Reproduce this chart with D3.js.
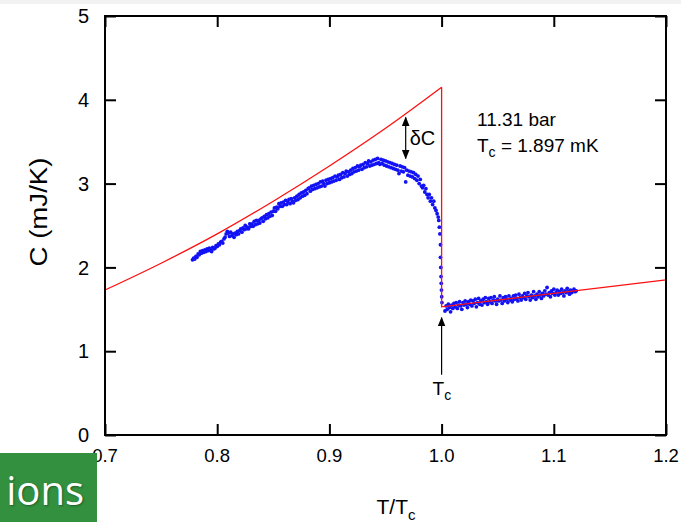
<!DOCTYPE html>
<html>
<head>
<meta charset="utf-8">
<script src="https://cdn.jsdelivr.net/npm/d3@7/dist/d3.min.js"></script>
<style>
  html, body { margin: 0; padding: 0; background: #fff; }
  svg { display: block; font-family: "Liberation Sans", Arial, Helvetica, sans-serif; }
</style>
</head>
<body>
<div id="chart"></div>
<script>
// Chaleur spécifique autour de Tc (11.31 bar)

// Points mesurés sous Tc : T/Tc = 0.778 + i * 0.001
const lowStart = 0.778;
const lowStep = 0.001;
const lowC = [
  2.09, 2.11, 2.10, 2.13, 2.12, 2.16, 2.15, 2.19, 2.17, 2.20,
  2.18, 2.21, 2.19, 2.22, 2.20, 2.23, 2.21, 2.19, 2.24, 2.22,
  2.23, 2.26, 2.25, 2.28, 2.27, 2.30, 2.31, 2.29, 2.34, 2.36,
  2.40, 2.43, 2.41, 2.37, 2.42, 2.38, 2.40, 2.36, 2.41, 2.39,
  2.43, 2.40, 2.44, 2.46, 2.42, 2.47, 2.45, 2.50, 2.46, 2.48,
  2.46, 2.52, 2.49, 2.52, 2.49, 2.55, 2.51, 2.56, 2.52, 2.56,
  2.53, 2.58, 2.59, 2.55, 2.61, 2.58, 2.63, 2.59, 2.64, 2.61,
  2.66, 2.62, 2.67, 2.71, 2.67, 2.72, 2.70, 2.76, 2.73, 2.77,
  2.73, 2.78, 2.75, 2.80, 2.75, 2.78, 2.81, 2.76, 2.82, 2.79,
  2.77, 2.83, 2.80, 2.85, 2.81, 2.87, 2.83, 2.89, 2.85, 2.90,
  2.86, 2.92, 2.88, 2.94, 2.95, 2.91, 2.97, 2.93, 2.98, 2.94,
  2.99, 2.95, 3.00, 2.96, 3.02, 2.97, 3.03, 3.00, 2.97, 3.04,
  3.00, 3.05, 3.01, 3.06, 3.02, 3.07, 3.03, 3.09, 3.04, 3.08,
  3.10, 3.05, 3.11, 3.07, 3.13, 3.08, 3.12, 3.15, 3.09, 3.14,
  3.11, 3.16, 3.12, 3.18, 3.14, 3.19, 3.15, 3.21, 3.16, 3.20,
  3.22, 3.17, 3.23, 3.19, 3.25, 3.20, 3.24, 3.27, 3.21, 3.26,
  3.22, 3.28, 3.23, 3.29, 3.24, 3.30, 3.25, 3.23, 3.29, 3.24,
  3.28, 3.22, 3.27, 3.21, 3.26, 3.20, 3.25, 3.19, 3.24, 3.18,
  3.23, 3.17, 3.22, 3.16, 3.12, 3.21, 3.15, 3.20, 3.14, 3.19,
  3.02, 3.16, 3.10, 3.15, 3.09, 3.14, 3.08, 3.13, 3.06, 3.11,
  3.04, 3.09, 3.00, 3.05, 2.97, 2.95, 2.98, 2.90, 2.94, 2.87,
  2.83, 2.87, 2.79, 2.83, 2.75, 2.79, 2.71, 2.68, 2.64, 2.60
];

// Points de la transition (chute verticale)
const jumpT = [0.9975, 0.998, 0.9985, 0.999, 0.999, 0.9993, 0.9995, 0.9997, 0.9999, 1.0001, 1.0003];
const jumpC = [2.56, 2.48, 2.40, 2.27, 2.12, 2.00, 1.89, 1.81, 1.73, 1.65, 1.58];

// Points mesurés au-dessus de Tc : T/Tc = 1.003 + i * 0.001
const highStart = 1.003;
const highStep = 0.001;
const highC = [
  1.48, 1.54, 1.50, 1.56, 1.52, 1.47, 1.55, 1.51, 1.57, 1.53,
  1.58, 1.51, 1.55, 1.59, 1.54, 1.50, 1.58, 1.55, 1.60, 1.56,
  1.52, 1.59, 1.56, 1.61, 1.54, 1.60, 1.57, 1.62, 1.53, 1.58,
  1.63, 1.56, 1.60, 1.55, 1.62, 1.58, 1.64, 1.59, 1.56, 1.63,
  1.59, 1.64, 1.57, 1.61, 1.65, 1.60, 1.56, 1.62, 1.60, 1.66,
  1.61, 1.57, 1.64, 1.60, 1.65, 1.62, 1.58, 1.66, 1.61, 1.63,
  1.59, 1.66, 1.62, 1.67, 1.63, 1.60, 1.68, 1.64, 1.61, 1.66,
  1.64, 1.69, 1.62, 1.66, 1.70, 1.65, 1.61, 1.67, 1.64, 1.71,
  1.66, 1.62, 1.68, 1.65, 1.71, 1.67, 1.63, 1.69, 1.66, 1.72,
  1.68, 1.76, 1.67, 1.70, 1.65, 1.72, 1.69, 1.74, 1.67, 1.70,
  1.73, 1.67, 1.71, 1.69, 1.74, 1.70, 1.66, 1.72, 1.70, 1.75,
  1.71, 1.68, 1.73, 1.70, 1.72, 1.74, 1.71, 1.72
];

// Courbe théorique (rouge)
const fitT = [0.70, 0.75, 0.80, 0.85, 0.90, 0.95, 1.00, 1.00, 1.20];
const fitC = [1.73, 2.05, 2.40, 2.79, 3.21, 3.66, 4.15, 1.53, 1.85];

// Graduations
const xTicks = [0.7, 0.8, 0.9, 1.0, 1.1, 1.2];
const xTickLabels = ["0.7", "0.8", "0.9", "1.0", "1.1", "1.2"];
const yTicks = [0, 1, 2, 3, 4, 5];

(function() {
    const width = 681;
    const height = 522;
    const margin = { top: 16, right: 15, bottom: 87, left: 105 };
    const tickLen = 11;

    const svg = d3.select("#chart").append("svg")
        .attr("width", width)
        .attr("height", height);

    // léger bandeau gris en haut (diapositive)
    svg.append("rect").attr("x", 0).attr("y", 0).attr("width", width).attr("height", 4).attr("fill", "#f2f2f2");

    const x = d3.scaleLinear().domain([0.7, 1.2]).range([margin.left, width - margin.right]);
    const y = d3.scaleLinear().domain([0, 5]).range([height - margin.bottom, margin.top]);

    const plot = svg.append("g");

    // Données
    const points = [];
    lowC.forEach((c, i) => points.push([lowStart + i * lowStep, c]));
    jumpC.forEach((c, i) => points.push([jumpT[i], c]));
    highC.forEach((c, i) => points.push([highStart + i * highStep, c]));

    plot.append("g").selectAll("circle")
        .data(points)
        .join("circle")
        .attr("cx", d => x(d[0]))
        .attr("cy", d => y(d[1]))
        .attr("r", 1.9)
        .attr("fill", "#1212f5");

    // Ajustement : partie supraconductrice (courbe) puis saut et partie normale
    const fitLow = fitT.slice(0, 7).map((t, i) => [t, fitC[i]]);
    const fitHigh = fitT.slice(6).map((t, i) => [t, fitC[i + 6]]);

    plot.append("path")
        .attr("d", d3.line().x(d => x(d[0])).y(d => y(d[1])).curve(d3.curveMonotoneX)(fitLow))
        .attr("fill", "none")
        .attr("stroke", "#ff1010")
        .attr("stroke-width", 1.3);

    plot.append("path")
        .attr("d", d3.line().x(d => x(d[0])).y(d => y(d[1]))(fitHigh))
        .attr("fill", "none")
        .attr("stroke", "#ff1010")
        .attr("stroke-width", 1.3);

    // Cadre et graduations
    const axisStyle = g => {
        g.select(".domain").remove();
        g.selectAll("line").attr("stroke", "#000").attr("stroke-width", 2);
        g.selectAll("text").remove();
    };
    svg.append("g").attr("transform", `translate(0,${y(0)})`)
        .call(d3.axisBottom(x).tickValues(xTicks).tickSize(-tickLen)).call(axisStyle);
    svg.append("g").attr("transform", `translate(0,${y(5)})`)
        .call(d3.axisTop(x).tickValues(xTicks).tickSize(-tickLen)).call(axisStyle);
    svg.append("g").attr("transform", `translate(${x(0.7)},0)`)
        .call(d3.axisLeft(y).tickValues(yTicks).tickSize(-tickLen)).call(axisStyle);
    svg.append("g").attr("transform", `translate(${x(1.2)},0)`)
        .call(d3.axisRight(y).tickValues(yTicks).tickSize(-tickLen)).call(axisStyle);

    svg.append("rect")
        .attr("x", x(0.7)).attr("y", y(5))
        .attr("width", x(1.2) - x(0.7)).attr("height", y(0) - y(5))
        .attr("fill", "none").attr("stroke", "#000").attr("stroke-width", 2);

    // Libellés des graduations
    svg.append("g").selectAll("text")
        .data(yTicks)
        .join("text")
        .attr("x", x(0.7) - 16)
        .attr("y", d => y(d))
        .attr("dy", "0.36em")
        .attr("text-anchor", "end")
        .attr("font-size", 20)
        .text(d => d);

    svg.append("g").selectAll("text")
        .data(xTicks)
        .join("text")
        .attr("x", d => x(d))
        .attr("y", 462)
        .attr("text-anchor", "middle")
        .attr("font-size", 18.5)
        .text((d, i) => xTickLabels[i]);

    // Titres des axes
    svg.append("text")
        .attr("transform", `translate(47,212) rotate(-90) scale(1.15,1)`)
        .attr("text-anchor", "middle")
        .attr("font-size", 24)
        .text("C (mJ/K)");

    const xt = svg.append("text")
        .attr("x", 396)
        .attr("y", 514)
        .attr("text-anchor", "middle")
        .attr("font-size", 21);
    xt.append("tspan").text("T/T");
    xt.append("tspan").attr("dy", 6).attr("font-size", 15).text("c");

    // Flèche δC
    svg.append("defs").append("marker")
        .attr("id", "head")
        .attr("viewBox", "0 0 10 10")
        .attr("refX", 9).attr("refY", 5)
        .attr("markerWidth", 8).attr("markerHeight", 8)
        .attr("orient", "auto-start-reverse")
        .append("path").attr("d", "M0,1 L10,5 L0,9 Z").attr("fill", "#000");

    svg.append("line")
        .attr("x1", x(0.968)).attr("x2", x(0.968))
        .attr("y1", y(3.79)).attr("y2", y(3.30))
        .attr("stroke", "#000").attr("stroke-width", 1.2)
        .attr("marker-start", "url(#head)")
        .attr("marker-end", "url(#head)");

    svg.append("text")
        .attr("x", x(0.968) + 4)
        .attr("y", y(3.55) + 7)
        .attr("font-size", 20)
        .text("δC");

    // Flèche Tc
    svg.append("line")
        .attr("x1", x(1.0)).attr("x2", x(1.0))
        .attr("y1", y(0.72)).attr("y2", y(1.40))
        .attr("stroke", "#000").attr("stroke-width", 1.2)
        .attr("marker-end", "url(#head)");

    const tc = svg.append("text")
        .attr("x", x(1.0) - 9)
        .attr("y", 395)
        .attr("font-size", 19);
    tc.append("tspan").text("T");
    tc.append("tspan").attr("dy", 5).attr("font-size", 14).text("c");

    // Conditions de mesure
    svg.append("text")
        .attr("x", 477).attr("y", 126)
        .attr("font-size", 19)
        .text("11.31 bar");

    const tcv = svg.append("text")
        .attr("x", 477).attr("y", 152)
        .attr("font-size", 19);
    tcv.append("tspan").text("T");
    tcv.append("tspan").attr("dy", 5).attr("font-size", 14).text("c");
    tcv.append("tspan").attr("dy", -5).text(" = 1.897 mK");

    // Bandeau vert de la diapositive
    svg.append("rect")
        .attr("x", 0).attr("y", 453)
        .attr("width", 97).attr("height", 69)
        .attr("fill", "#32903f");

    svg.append("text")
        .attr("x", 84).attr("y", 505)
        .attr("text-anchor", "end")
        .attr("font-size", 40)
        .attr("fill", "#fff")
        .attr("font-family", "'Open Sans', 'Liberation Sans', sans-serif")
        .style("text-shadow", "1px 1px 2px rgba(0,0,0,0.35)")
        .text("ions");
})();
</script>
</body>
</html>
